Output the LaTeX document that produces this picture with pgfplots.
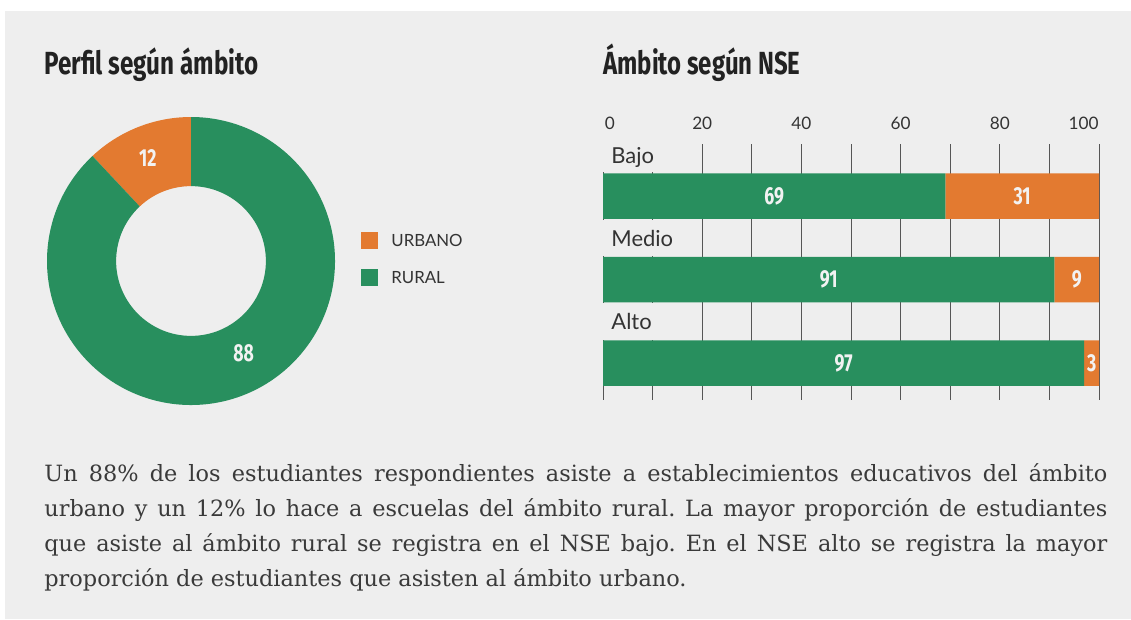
\documentclass[border=0pt]{standalone}
\usepackage{pgfplots}
\pgfplotsset{compat=1.18}
\usepackage{pgfplotstable}
\usepackage{graphicx}
\usepackage{fontspec}
\setmainfont{Fira Sans}
\newfontfamily\labfont{Lato}
\newfontfamily\bodyfont{DejaVu Serif}
\definecolor{bg}{HTML}{EEEEEE}
\definecolor{rur}{HTML}{288F5E}
\definecolor{urb}{HTML}{E37A30}
\definecolor{txt}{HTML}{222222}
\definecolor{lab}{HTML}{333333}
\definecolor{body}{HTML}{3A3A3A}
\definecolor{num}{HTML}{F2F2F2}
\definecolor{gridc}{HTML}{555555}

\pgfplotstableread{
ambito valor
URBANO 12
RURAL 88
}\perfil
\pgfplotstableread{
nse pos rural urbano
Bajo 0 69 31
Medio 1 91 9
Alto 2 97 3
}\nsedata

\newcommand\numlab[1]{\textcolor{num}{\scalebox{0.72}[1]{\fontsize{12.3bp}{12.3bp}\selectfont\bfseries #1}}}
\newcommand\catlab[1]{{\labfont\fontsize{11bp}{11bp}\selectfont\textcolor{lab}{#1}}}
\newcommand\ticklab[1]{{\labfont\fontsize{8.6bp}{8.6bp}\selectfont\textcolor{lab}{#1}}}

\begin{document}
\begin{tikzpicture}
\pgfplotstablegetelem{0}{valor}\of\perfil
\let\vurb\pgfplotsretval
\pgfmathsetmacro\aend{90+3.6*\vurb}
\begin{scope}[x=0.5bp,y=-0.5bp]
\fill[white] (0,0) rectangle (1131,619);
\fill[bg] (5,11) rectangle (1131,619);
\node[anchor=base west, inner sep=0, text=txt] at (44,74.3) {\resizebox{107bp}{\height}{\fontsize{16bp}{16bp}\selectfont\bfseries Perfil según ámbito}};
\node[anchor=base west, inner sep=0, text=txt] at (603,74.3) {\resizebox{98.5bp}{\height}{\fontsize{16bp}{16bp}\selectfont\bfseries Ámbito según NSE}};
% legend
\fill[urb] (361,232) rectangle (378,249);
\fill[rur] (361,269) rectangle (378,286);
\node[anchor=base west, inner sep=0] at (391,246) {{\labfont\fontsize{8.4bp}{8.4bp}\selectfont\textcolor{lab}{URBANO}}};
\node[anchor=base west, inner sep=0] at (391,283) {{\labfont\fontsize{8.4bp}{8.4bp}\selectfont\textcolor{lab}{RURAL}}};
% body text
\node[anchor=base west, inner sep=0, text=body] at (44,481) {\parbox[t]{531.5bp}{\bodyfont\fontsize{11.2bp}{17.5bp}\selectfont\hyphenpenalty=10000\frenchspacing
Un 88\% de los estudiantes respondientes asiste a establecimientos educativos del ámbito\linebreak
urbano y un 12\% lo hace a escuelas del ámbito rural. La mayor proporción de estudiantes\linebreak
que asiste al ámbito rural se registra en el NSE bajo. En el NSE alto se registra la mayor\linebreak
proporción de estudiantes que asisten al ámbito urbano.}};
\end{scope}

% donut
\begin{axis}[at={(95.5bp,-130.5bp)}, anchor=center, width=144bp, height=144bp,
  scale only axis, hide axis, xmin=-1, xmax=1, ymin=-1, ymax=1, clip=false]
\fill[urb] (axis cs:0,1) arc[start angle=90, end angle=\aend, radius=72bp]
  -- (axis cs:{0.52*cos(\aend)},{0.52*sin(\aend)}) arc[start angle=\aend, end angle=90, radius=37.44bp] -- cycle;
\fill[rur] (axis cs:{cos(\aend)},{sin(\aend)}) arc[start angle=\aend, end angle=450, radius=72bp]
  -- (axis cs:0,0.52) arc[start angle=450, end angle=\aend, radius=37.44bp] -- cycle;
\node at (axis cs:-0.30,0.715) {\numlab{12}};
\node at (axis cs:0.365,-0.64) {\numlab{88}};
\end{axis}

% stacked bars
\begin{axis}[at={(301.5bp,-72bp)}, anchor=north west,
  width=248bp, height=128bp, scale only axis,
  xmin=0, xmax=100, ymin=-0.623, ymax=2.443, y dir=reverse,
  xbar stacked, bar width=22.75bp,
  xtick={0,10,...,100}, xticklabels={}, ytick=\empty,
  xmajorgrids, grid style={draw=gridc, line width=0.5bp},
  axis line style={draw=none}, major tick length=0pt,
  clip=false]
\addplot[fill=rur, draw=none] table[x=rural, y=pos]{\nsedata};
\addplot[fill=urb, draw=none] table[x=urbano, y=pos]{\nsedata};
\node[anchor=base west, inner sep=0] at (axis cs:0.3,-0.80) {\ticklab{0}};
\node[anchor=base, inner sep=0] at (axis cs:20,-0.80) {\ticklab{20}};
\node[anchor=base, inner sep=0] at (axis cs:40,-0.80) {\ticklab{40}};
\node[anchor=base, inner sep=0] at (axis cs:60,-0.80) {\ticklab{60}};
\node[anchor=base, inner sep=0] at (axis cs:80,-0.80) {\ticklab{80}};
\node[anchor=base east, inner sep=0] at (axis cs:100,-0.80) {\ticklab{100}};
\end{axis}

% labels over the bar chart (px coordinates: x = 603 + 4.96 v, y = 196 + 83.5 pos)
\begin{scope}[x=0.5bp,y=-0.5bp]
\fill[bg] (598,140) rectangle (682,172.5);
\fill[bg] (598,219.5) rectangle (682,256);
\fill[bg] (598,303) rectangle (682,339.5);
\node[anchor=base west, inner sep=0] at (611,164) {\catlab{Bajo}};
\node[anchor=base west, inner sep=0] at (611,246.7) {\catlab{Medio}};
\node[anchor=base west, inner sep=0] at (611,329.5) {\catlab{Alto}};
\node at (774.1,196) {\numlab{69}};
\node at (1022.1,196) {\numlab{31}};
\node at (828.7,279.5) {\numlab{91}};
\node at (1076.7,279.5) {\numlab{9}};
\node at (843.6,363) {\numlab{97}};
\node at (1091.6,363) {\numlab{3}};
\end{scope}
\end{tikzpicture}
\end{document}
